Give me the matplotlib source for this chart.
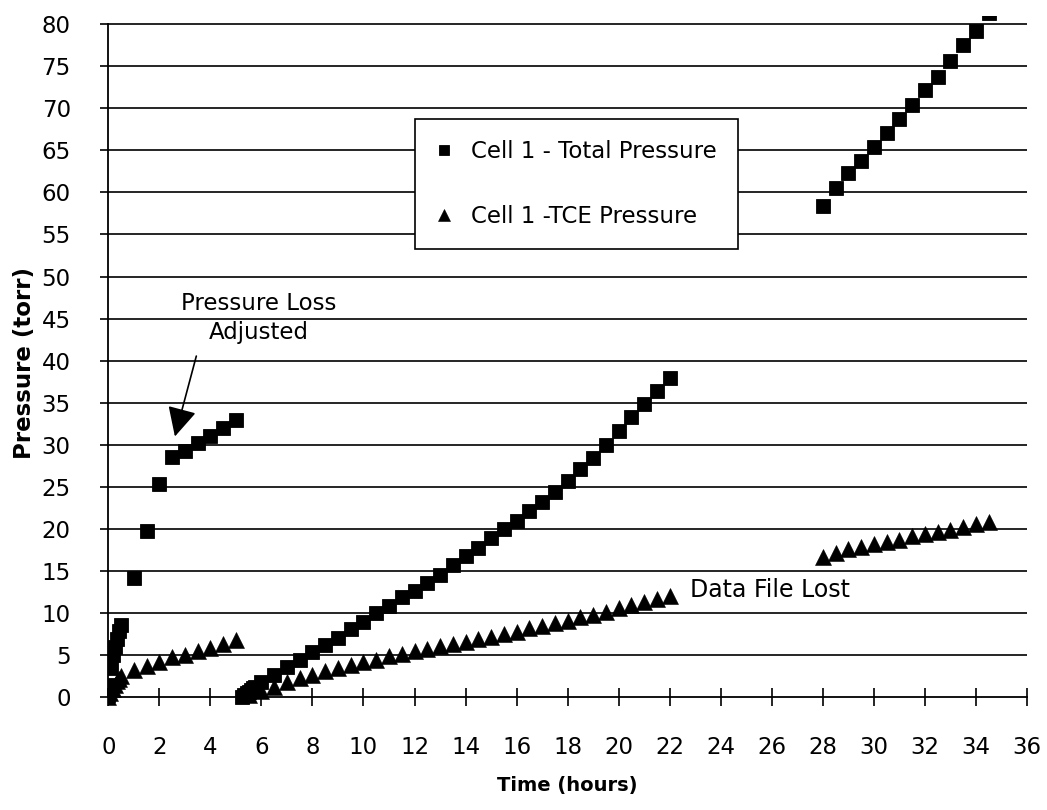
import matplotlib
matplotlib.use("Agg")
import matplotlib.pyplot as plt

plt.rcParams['font.family'] = ['DejaVu Sans']

# Cell 1 total pressure (torr) against time (hours), three recording runs
total_t1 = [0.0, 0.05, 0.1, 0.17, 0.25, 0.33, 0.42, 0.5,
            1.0, 1.5, 2.0, 2.5, 3.0, 3.5, 4.0, 4.5, 5.0]
total_p1 = [0.3, 1.5, 3.5, 5.0, 6.0, 7.0, 7.9, 8.6,
            14.2, 19.8, 25.3, 28.6, 29.3, 30.2, 31.0, 32.0, 33.0]

total_t2 = [5.25, 5.33, 5.42, 5.5, 5.58, 5.67, 5.75, 6.0,
            6.5, 7.0, 7.5, 8.0, 8.5, 9.0, 9.5, 10.0, 10.5, 11.0, 11.5, 12.0,
            12.5, 13.0, 13.5, 14.0, 14.5, 15.0, 15.5, 16.0, 16.5, 17.0,
            17.5, 18.0, 18.5, 19.0, 19.5, 20.0, 20.5, 21.0, 21.5, 22.0]
total_p2 = [0.1, 0.3, 0.5, 0.7, 0.9, 1.1, 1.3, 1.8,
            2.7, 3.6, 4.5, 5.4, 6.2, 7.1, 8.1, 9.0, 10.0, 10.9, 11.9, 12.7,
            13.6, 14.6, 15.7, 16.8, 17.8, 18.9, 20.0, 21.0, 22.1, 23.2,
            24.4, 25.7, 27.1, 28.4, 30.0, 31.6, 33.3, 34.8, 36.4, 38.0]

total_t3 = [28.0, 28.5, 29.0, 29.5, 30.0, 30.5, 31.0, 31.5, 32.0, 32.5,
            33.0, 33.5, 34.0, 34.5]
total_p3 = [58.4, 60.5, 62.3, 63.7, 65.4, 67.0, 68.7, 70.4, 72.1, 73.7,
            75.6, 77.5, 79.2, 81.3]

# Cell 1 TCE partial pressure (torr)
tce_t1 = [0.0, 0.08, 0.17, 0.25, 0.33, 0.42, 0.5,
          1.0, 1.5, 2.0, 2.5, 3.0, 3.5, 4.0, 4.5, 5.0]
tce_p1 = [0.0, 0.5, 1.0, 1.5, 1.9, 2.2, 2.5,
          3.25, 3.7, 4.2, 4.75, 5.1, 5.55, 5.9, 6.35, 6.8]

tce_t2 = [5.5, 6.0, 6.5, 7.0, 7.5, 8.0, 8.5, 9.0, 9.5, 10.0, 10.5, 11.0,
          11.5, 12.0, 12.5, 13.0, 13.5, 14.0, 14.5, 15.0, 15.5, 16.0, 16.5,
          17.0, 17.5, 18.0, 18.5, 19.0, 19.5, 20.0, 20.5, 21.0, 21.5, 22.0]
tce_p2 = [0.3, 0.8, 1.3, 1.8, 2.3, 2.7, 3.1, 3.5, 3.9, 4.2, 4.5, 4.9,
          5.2, 5.5, 5.8, 6.1, 6.3, 6.6, 6.9, 7.2, 7.5, 7.8, 8.2,
          8.5, 8.8, 9.1, 9.5, 9.8, 10.2, 10.6, 11.0, 11.3, 11.7, 12.0]

tce_t3 = [28.0, 28.5, 29.0, 29.5, 30.0, 30.5, 31.0, 31.5, 32.0, 32.5,
          33.0, 33.5, 34.0, 34.5]
tce_p3 = [16.7, 17.2, 17.6, 17.9, 18.2, 18.5, 18.7, 19.2, 19.4, 19.6,
          19.9, 20.3, 20.6, 20.8]

x_ticks = list(range(0, 37, 2))
y_ticks = list(range(0, 81, 5))

label_total = "Cell 1 - Total Pressure"
label_tce = "Cell 1 -TCE Pressure"

W, H = 1047, 810
fig = plt.figure(figsize=(W / 100, H / 100), dpi=100)
ax = fig.add_axes([108.3 / W, 1 - 710.1 / H, (1027 - 108.3) / W, (710.1 - 15.5) / H])

sq = dict(linestyle='none', marker='s', ms=9.4, color='black', mew=0.6)
tri = dict(linestyle='none', marker='^', ms=12.0, color='black', mew=0.4)

h_tot, = ax.plot(total_t1, total_p1, label=label_total, **sq)
ax.plot(total_t2, total_p2, **sq)
ax.plot(total_t3, total_p3, **sq)
h_tce, = ax.plot(tce_t1, tce_p1, label=label_tce, **tri)
ax.plot(tce_t2, tce_p2, **tri)
ax.plot(tce_t3, tce_p3, **tri)

ax.set_xlim(0, 36)
ax.set_ylim(-1.5, 81.0)

ax.spines['top'].set_visible(False)
ax.spines['right'].set_visible(False)
ax.spines['bottom'].set_position(('data', 0))
ax.spines['left'].set_bounds(0, 80)
for s in ('left', 'bottom'):
    ax.spines[s].set_linewidth(1.3)

ax.set_xticks(x_ticks)
ax.set_yticks(y_ticks)
ax.tick_params(axis='x', direction='inout', length=13.5, width=1.2,
               labelsize=16.5, pad=21)
ax.tick_params(axis='y', direction='out', length=6, width=1.2,
               labelsize=16.5, pad=21)

for yv in y_ticks[1:]:
    ax.axhline(yv, color='black', lw=1.2, zorder=0)

ax.set_xlabel("Time (hours)", fontsize=14, fontweight='bold', labelpad=12)
ax.set_ylabel("Pressure (torr)", fontsize=16.5, fontweight='bold', labelpad=4)

ax.annotate("Pressure Loss\nAdjusted", xy=(2.61, 31.0), xytext=(5.89, 45.1),
            ha='center', va='center', fontsize=16.5, linespacing=1.35,
            arrowprops=dict(arrowstyle='-|>,head_length=1.8,head_width=0.9',
                            mutation_scale=10, color='black', lw=1.2,
                            shrinkA=7, shrinkB=0,
                            relpos=(0.12, 0.0)))

ax.text(22.8, 12.8, "Data File Lost", fontsize=17, ha='left', va='center')

leg = ax.legend(handles=[h_tot, h_tce], loc='upper left',
                bbox_to_anchor=(415 / W, 1 - 119 / H), bbox_transform=fig.transFigure,
                borderaxespad=0, fontsize=16.5, labelspacing=1.85, borderpad=0.9,
                handlelength=0.7, handletextpad=0.85, markerscale=0.75,
                fancybox=False, framealpha=1, edgecolor='black')
leg.get_frame().set_linewidth(1.2)

fig.savefig("out.png", dpi=100)
